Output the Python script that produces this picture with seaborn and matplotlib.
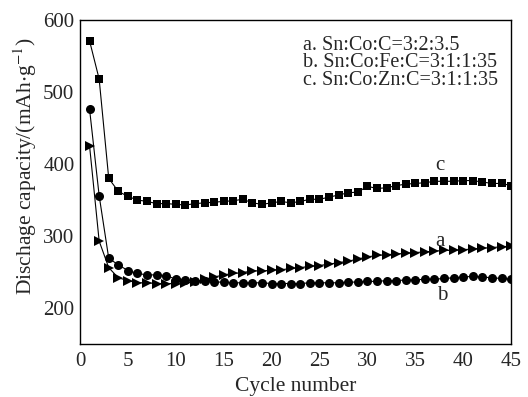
import numpy as np
import pandas as pd
import matplotlib
matplotlib.use("Agg")
import matplotlib.pyplot as plt
import seaborn as sns
from matplotlib.ticker import MultipleLocator

sns.set_style("white")
plt.rcParams['font.family'] = ['Liberation Serif', 'DejaVu Serif']
plt.rcParams['mathtext.fontset'] = 'stix'

cycles = list(range(1, 46))

# a. Sn:Co:C=3:2:3.5 (triangles)
cap_a = [425, 293, 256, 242, 238, 235, 235, 234, 234, 234, 235, 236, 240, 243,
         246, 248, 249, 252, 251, 253, 253, 255, 256, 258, 259, 261, 263, 265,
         268, 271, 273, 274, 275, 276, 277, 278, 279, 280, 280, 281, 282, 283,
         284, 285, 286]
# b. Sn:Co:Fe:C=3:1:1:35 (circles)
cap_b = [476, 356, 269, 260, 252, 248, 246, 246, 245, 240, 239, 238, 237, 236,
         236, 235, 235, 235, 235, 234, 234, 234, 234, 235, 235, 235, 235, 236,
         236, 237, 237, 238, 238, 239, 239, 240, 240, 241, 242, 243, 244, 243,
         242, 241, 240]
# c. Sn:Co:Zn:C=3:1:1:35 (squares)
cap_c = [571, 518, 380, 362, 355, 350, 348, 345, 345, 344, 343, 345, 346, 347,
         348, 349, 351, 346, 344, 346, 348, 346, 348, 351, 351, 354, 357, 360,
         361, 369, 366, 367, 370, 372, 373, 374, 376, 376, 376, 377, 377, 375,
         373, 373, 370]

legend_lines = ["a. Sn:Co:C=3:2:3.5",
                "b. Sn:Co:Fe:C=3:1:1:35",
                "c. Sn:Co:Zn:C=3:1:1:35"]

fig = plt.figure(figsize=(5.28, 3.97), dpi=100)
ax = fig.add_axes([0.1515, 0.1335, 0.8165, 0.8161])

for vals, mk, ms in [(cap_c, 's', 6), (cap_b, 'o', 6.5), (cap_a, '>', 7)]:
    df = pd.DataFrame({'cycle': cycles, 'cap': vals})
    sns.lineplot(data=df, x='cycle', y='cap', ax=ax, color='black', lw=0.8,
                 marker=mk, markersize=ms, markeredgewidth=0,
                 markerfacecolor='black')

ax.set_xlim(0, 45)
ax.set_ylim(150, 600)
ax.set_yticks([200, 300, 400, 500, 600])
ax.xaxis.set_major_locator(MultipleLocator(5))
ax.xaxis.set_minor_locator(MultipleLocator(2.5))
ax.yaxis.set_minor_locator(MultipleLocator(50))
ax.tick_params(which='both', direction='in', top=False, right=False,
               labelsize=15)
ax.tick_params(axis='x', pad=6)
ax.tick_params(axis='y', pad=4)
ax.tick_params(which='major', length=5, width=1)
ax.tick_params(which='minor', length=3, width=1)
for s in ax.spines.values():
    s.set_linewidth(1)
    s.set_color('black')

ax.set_xlabel("Cycle number", fontsize=15.5, labelpad=4)
ax.set_ylabel(r"Dischage capacity/(mAh$\cdot$g$^{-1}$)", fontsize=15.5)
ax.yaxis.set_label_coords(-0.095, 0.55)

ax.text(37.6, 398, "c", fontsize=15, ha='center', va='center')
ax.text(37.6, 293, "a", fontsize=15, ha='center', va='center')
ax.text(37.8, 217, "b", fontsize=15, ha='center', va='center')

for i, t in enumerate(legend_lines):
    ax.text(23.3, 565 - i * 24.5, t, fontsize=14.5, ha='left', va='center')

fig.savefig("out.png", dpi=100)
